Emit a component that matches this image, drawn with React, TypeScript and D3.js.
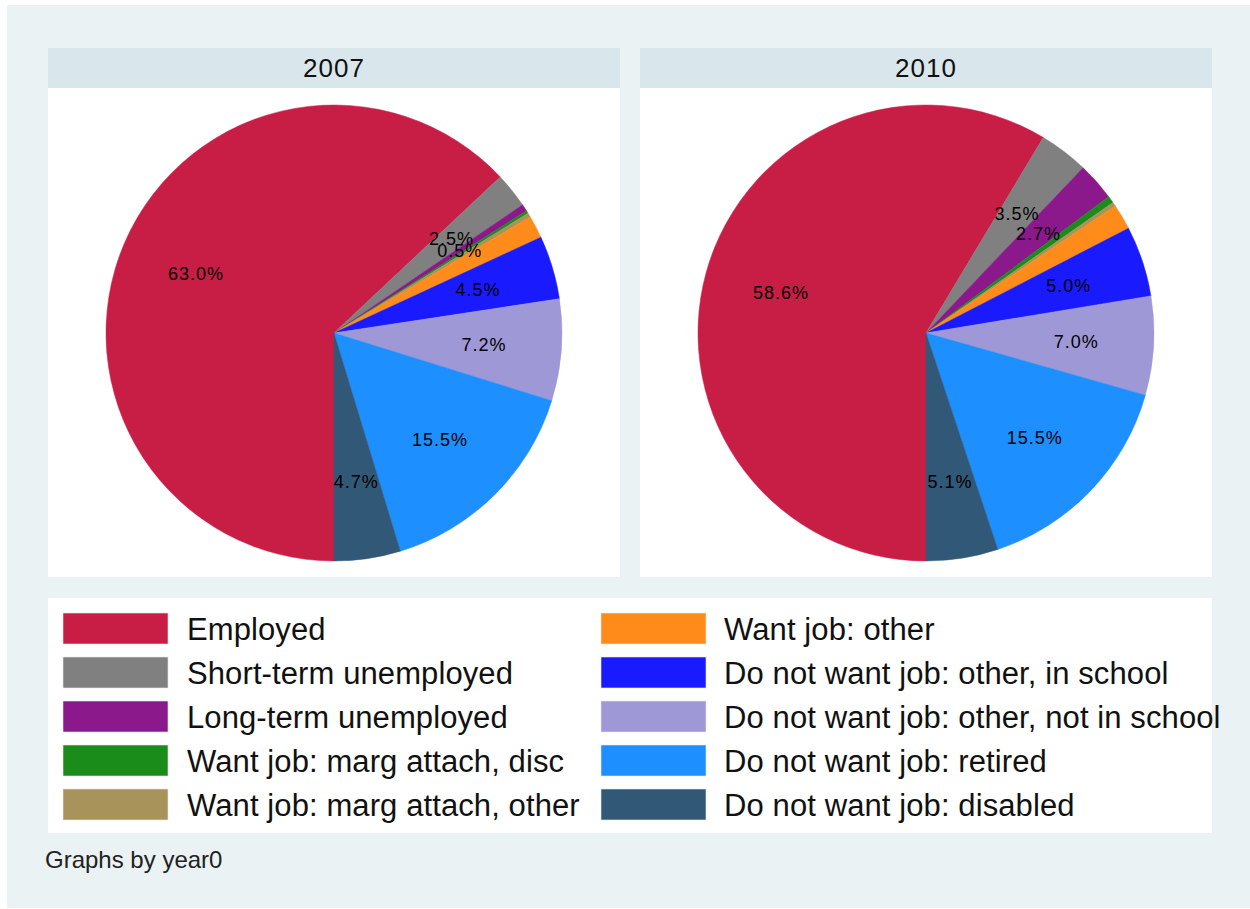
import * as d3 from 'd3';

const categories = [
  'Employed',
  'Short-term unemployed',
  'Long-term unemployed',
  'Want job: marg attach, disc',
  'Want job: marg attach, other',
  'Want job: other',
  'Do not want job: other, in school',
  'Do not want job: other, not in school',
  'Do not want job: retired',
  'Do not want job: disabled',
];

const colors = [
  '#c81e46', '#808080', '#8c198c', '#1a8c1a', '#a8935a',
  '#ff8c1a', '#1a1aff', '#9e98d6', '#1e8fff', '#325878',
];

const years = ['2007', '2010'];

// shares in percent, same order as categories
const values2007 = [63.0, 2.5, 0.5, 0.2, 0.3, 1.6, 4.5, 7.2, 15.5, 4.7];
const values2010 = [58.6, 3.5, 2.7, 0.5, 0.3, 1.8, 5.0, 7.0, 15.5, 5.1];

// which slices carry a percent label
const labelled2007 = [true, true, true, false, false, false, true, true, true, true];
const labelled2010 = [true, true, true, false, false, false, true, true, true, true];

const W = 1250;
const H = 909;
const FONT = '"Liberation Sans", Arial, Helvetica, sans-serif';

const panels = [
  { year: years[0], values: values2007, labelled: labelled2007, x0: 48, x1: 620 },
  { year: years[1], values: values2010, labelled: labelled2010, x0: 640, x1: 1212 },
];

const pie = d3.pie<number>().sort(null).startAngle(Math.PI).endAngle(3 * Math.PI);
const radius = 228;
const arc = d3.arc<d3.PieArcDatum<number>>().innerRadius(0).outerRadius(radius);
const labelArc = d3.arc<d3.PieArcDatum<number>>().innerRadius(radius * 0.66).outerRadius(radius * 0.66);

const PieChart = ({ values, labelled, cx, cy }: { values: number[]; labelled: boolean[]; cx: number; cy: number }) => {
  const arcs = pie(values);
  return (
    <g transform={`translate(${cx},${cy})`}>
      {arcs.map((a, i) => (
        <path key={i} d={arc(a) || ''} fill={colors[i]} stroke={colors[i]} strokeWidth={0.5} />
      ))}
      {arcs.map((a, i) => {
        if (!labelled[i]) return null;
        const [lx, ly] = labelArc.centroid(a);
        return (
          <text key={'l' + i} x={lx} y={ly} dy="0.36em" textAnchor="middle"
            fontFamily={FONT} fontSize={18} letterSpacing={1} fill="#000">
            {values[i].toFixed(1) + '%'}
          </text>
        );
      })}
    </g>
  );
};

export default function App() {
  const legendCol = [
    { swatchX: 63, textX: 187 },
    { swatchX: 601, textX: 724 },
  ];
  const rowY = d3.scaleLinear().domain([0, 1]).range([613, 657]);

  return (
    <svg width={W} height={H} style={{ position: 'absolute', left: 0, top: 0, display: 'block' }}>
      <rect x={0} y={0} width={W} height={H} fill="#ffffff" />
      <rect x={7} y={5} width={W - 7} height={903} fill="#eaf2f3" />

      {panels.map((p) => (
        <g key={p.year}>
          <rect x={p.x0} y={48} width={p.x1 - p.x0} height={40} fill="#d9e6eb" />
          <text x={(p.x0 + p.x1) / 2} y={77} textAnchor="middle" fontFamily={FONT} fontSize={26}
            letterSpacing={1} fill="#111">
            {p.year}
          </text>
          <rect x={p.x0} y={88} width={p.x1 - p.x0} height={489} fill="#ffffff" />
          <PieChart values={p.values} labelled={p.labelled} cx={(p.x0 + p.x1) / 2} cy={333} />
        </g>
      ))}

      <rect x={48} y={598} width={1164} height={235} fill="#ffffff" />
      {categories.map((c, i) => {
        const col = legendCol[Math.floor(i / 5)];
        const y = rowY(i % 5);
        return (
          <g key={c}>
            <rect x={col.swatchX} y={y} width={105} height={31} fill={colors[i]} stroke="#e8e8e8" strokeWidth={0.6} />
            <text x={col.textX} y={y + 27} fontFamily={FONT} fontSize={31} letterSpacing={0.1} fill="#111">{c}</text>
          </g>
        );
      })}

      <text x={45} y={868} fontFamily={FONT} fontSize={24} fill="#222">Graphs by year0</text>
    </svg>
  );
}
